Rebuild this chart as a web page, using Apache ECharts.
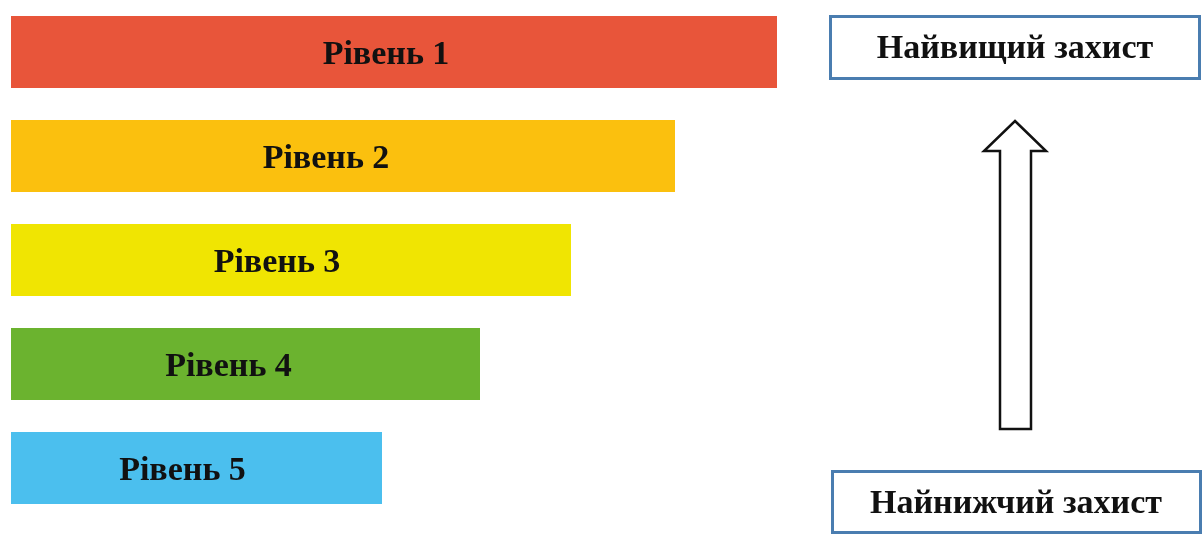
<!DOCTYPE html>
<html>
<head>
<meta charset="utf-8">
<script src="https://cdn.jsdelivr.net/npm/echarts@6/dist/echarts.min.js"></script>
<style>
  html, body { margin: 0; padding: 0; background: #fff; }
  #chart { width: 1203px; height: 535px; }
</style>
</head>
<body>
<div id="chart"></div>
<script>
// рівні захисту (зверху вниз) і довжини смуг
const levels = ["Рівень 1", "Рівень 2", "Рівень 3", "Рівень 4", "Рівень 5"];
const levelValues = [766, 664, 560, 469, 371];
const levelColors = ["#E8553A", "#FBC00E", "#F0E502", "#6BB32F", "#4BBFEE"];
const topNote = "Найвищий захист";
const bottomNote = "Найнижчий захист";

// зсув підписів вліво від центру смуги
const labelShift = [-8, -17, -14, -17, -14];

const FONT = "'Liberation Serif', 'DejaVu Serif', serif";

const myChart = echarts.init(document.getElementById("chart"));

const options = {
  animation: false,
  backgroundColor: "#fff",
  grid: { left: 11, top: 0, width: 800, height: 520, containLabel: false },
  xAxis: {
    type: "value",
    min: 0,
    max: 800,
    show: false,
  },
  yAxis: {
    type: "category",
    data: levels,
    inverse: true,
    show: false,
  },
  series: [
    {
      type: "bar",
      barWidth: 72,
      data: levelValues.map((v, i) => ({
        value: v,
        itemStyle: { color: levelColors[i] },
        label: { offset: [labelShift[i], 3] },
      })),
      label: {
        show: true,
        position: "inside",
        formatter: (p) => levels[p.dataIndex],
        fontFamily: FONT,
        fontWeight: "bold",
        fontSize: 34,
        color: "#111",
      },
    },
  ],
  graphic: [
    {
      type: "rect",
      shape: { x: 830.5, y: 16.5, width: 369, height: 62 },
      style: { fill: "#fff", stroke: "#4A7DB0", lineWidth: 3 },
    },
    {
      type: "text",
      x: 1015,
      y: 49,
      style: {
        text: topNote,
        fill: "#111",
        font: "bold 34px " + FONT,
        align: "center",
        verticalAlign: "middle",
      },
    },
    {
      type: "polygon",
      shape: {
        points: [
          [1015, 121],
          [1046, 151],
          [1031, 151],
          [1031, 429],
          [1000, 429],
          [1000, 151],
          [984, 151],
        ],
      },
      style: { fill: "#fff", stroke: "#111", lineWidth: 2.5, lineJoin: "miter" },
    },
    {
      type: "rect",
      shape: { x: 832.5, y: 471.5, width: 368, height: 61 },
      style: { fill: "#fff", stroke: "#4A7DB0", lineWidth: 3 },
    },
    {
      type: "text",
      x: 1016,
      y: 504,
      style: {
        text: bottomNote,
        fill: "#111",
        font: "bold 34px " + FONT,
        align: "center",
        verticalAlign: "middle",
      },
    },
  ],
};

myChart.setOption(options);
</script>
</body>
</html>
